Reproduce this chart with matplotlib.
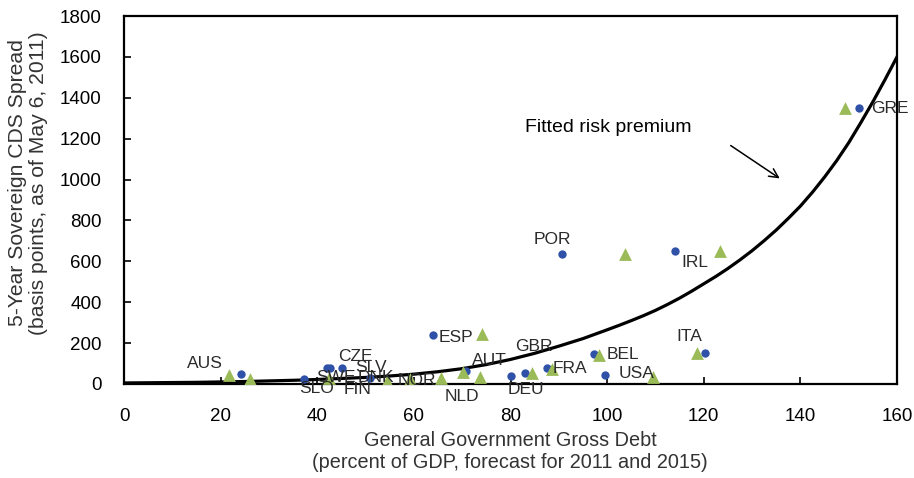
import matplotlib
matplotlib.use('Agg')
import matplotlib.pyplot as plt

plt.rcParams['font.family'] = ['Liberation Sans', 'DejaVu Sans']

# --- Dados ---
# 2011 (círculos azuis): dívida (% do PIB) e spread CDS (pontos-base)
debt_2011 = [24.2, 37.3, 42.0, 42.6, 45.1, 50.9, 63.9, 70.8, 80.1, 83.0, 87.5, 97.2, 99.6, 90.6, 114.1, 120.3, 152.2]
cds_2011 = [50, 23, 78, 80, 80, 30, 240, 65, 39, 55, 76, 145, 42, 634, 652, 150, 1352]

# 2015 (triângulos verdes)
debt_2015 = [21.7, 26.0, 42.5, 54.4, 59.2, 65.6, 70.1, 73.7, 74.0, 84.4, 88.5, 98.3, 103.7, 109.4, 118.6, 123.4, 149.3]
cds_2015 = [46, 22, 28, 15, 24, 28, 60, 33, 245, 55, 72, 142, 634, 36, 150, 652, 1349]

# curva ajustada (prêmio de risco)
fit_x = [0, 5, 10, 15, 20, 25, 30, 35, 40, 45, 50, 55, 60, 65, 70, 75, 80, 85, 90, 95,
         100, 102.5, 105, 107.5, 110, 112.5, 115, 117.5, 120, 122.5, 125, 127.5, 130,
         132.5, 135, 137.5, 140, 142.5, 145, 147.5, 150, 152.5, 155, 157.5, 160]
fit_y = [5, 6, 7, 8, 10, 12, 15, 18, 22, 27, 32, 39, 48, 60, 75, 95, 120, 150, 185, 222,
         265, 287, 310, 334, 360, 389, 420, 454, 490, 526, 565, 607, 652,
         701, 753, 810, 870, 938, 1012, 1092, 1180, 1278, 1380, 1488, 1600]

# rótulos dos países
countries = ['AUS', 'SLO', 'SWE', 'CZE', 'SLV', 'DNK', 'FIN', 'NOR', 'NLD', 'ESP',
             'AUT', 'GBR', 'DEU', 'FRA', 'BEL', 'USA', 'ITA', 'POR', 'IRL', 'GRE']
label_x = [13.0, 36.2, 39.8, 44.3, 47.8, 48.4, 45.5, 56.7, 66.3, 65.2,
           72.0, 81.0, 79.5, 88.8, 99.8, 102.3, 114.3, 84.7, 115.3, 154.7]
label_y = [98, -20, 34, 132, 83, 34, -29, 15, -59, 225,
           117, 181, -29, 78, 142, 49, 230, 705, 592, 1350]

x_ticks = list(range(0, 161, 20))
y_ticks = list(range(0, 1801, 200))

# --- Gráfico ---
fig = plt.figure(figsize=(9.14, 4.78), dpi=100)
ax = fig.add_axes([0.1357, 0.1967, 0.9814 - 0.1357, 0.9665 - 0.1967])

ax.plot(fit_x, fit_y, color='black', linewidth=2.3, zorder=2)
ax.scatter(debt_2011, cds_2011, s=36, marker='o', color='#2f52a8', zorder=3, linewidths=0)
ax.scatter(debt_2015, cds_2015, s=85, marker='^', color='#9bbb59', zorder=3, linewidths=0)

for nome, lx, ly in zip(countries, label_x, label_y):
    ax.text(lx, ly, nome, fontsize=12.5, color='#2b2b2b', ha='left', va='center', zorder=4)

ax.text(83.0, 1257, 'Fitted risk premium', fontsize=14, color='black', ha='left', va='center')
ax.annotate('', xy=(136.2, 998), xytext=(125.1, 1174),
            arrowprops=dict(arrowstyle='->', color='black', lw=1.1, mutation_scale=16))

ax.set_xlim(0, 160)
ax.set_ylim(0, 1800)
ax.set_xticks(x_ticks)
ax.set_yticks(y_ticks)
ax.tick_params(direction='in', length=5, width=1.2, labelsize=13.5, pad=16, colors='black')
ax.tick_params(axis='x', pad=17)
for sp in ax.spines.values():
    sp.set_linewidth(1.6)

fig.text(28 / 914, 1 - 183 / 478, '5-Year Sovereign CDS Spread\n(basis points, as of May 6, 2011)',
         rotation=90, ha='center', va='center', multialignment='center', fontsize=15.2,
         linespacing=1.1, color='#333333')
fig.text(510 / 914, 1 - 452 / 478, 'General Government Gross Debt\n(percent of GDP, forecast for 2011 and 2015)',
         ha='center', va='center', multialignment='center', fontsize=14.3, color='#333333')

fig.savefig('out.png', dpi=100)
